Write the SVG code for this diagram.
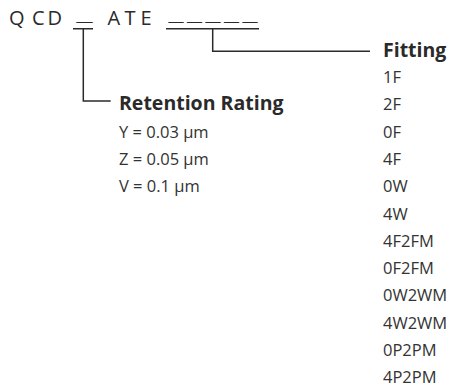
<svg xmlns="http://www.w3.org/2000/svg" width="450" height="388" viewBox="0 0 450 388">
<style>
.t{font-family:"Open Sans","Noto Sans",sans-serif;font-size:20px;fill:#2a2a2a}
.us{font-family:"Open Sans","Noto Sans",sans-serif;font-size:13px;fill:#2a2a2a;stroke:#2a2a2a;stroke-width:0.45}
.h{font-family:"Open Sans","Noto Sans",sans-serif;font-weight:bold;font-size:19.5px;fill:#2a2a2a}
.i{font-family:"Open Sans","Noto Sans",sans-serif;font-size:16.5px;fill:#333}
.c{fill:none;stroke:#2a2a2a;stroke-width:1.5}
</style>
<rect width="450" height="388" fill="#fff"/>
<g id="code">
<text class="t" x="9 32 47.5" y="25">QCD</text>
<text class="us" x="77" y="20.7" textLength="15" lengthAdjust="spacingAndGlyphs">_</text>
<text class="t" x="107.5 124.5 140.5" y="25">ATE</text>
<text class="us" x="169" y="20.7" textLength="14" lengthAdjust="spacingAndGlyphs">_</text>
<text class="us" x="187.5" y="20.7" textLength="14" lengthAdjust="spacingAndGlyphs">_</text>
<text class="us" x="206" y="20.7" textLength="14" lengthAdjust="spacingAndGlyphs">_</text>
<text class="us" x="224.5" y="20.7" textLength="14" lengthAdjust="spacingAndGlyphs">_</text>
<text class="us" x="243" y="20.7" textLength="14" lengthAdjust="spacingAndGlyphs">_</text>
</g>
<g id="connectors">
<path class="c" d="M73 28.7H93M83.3 28.7V101H110.7"/>
<path class="c" d="M166 28.7H259M212.7 28.7V51.3H370"/>
</g>
<g id="retention">
<text class="h" x="119" y="110">Retention Rating</text>
<text class="i" x="119" y="137.6">Y = 0.03 µm</text>
<text class="i" x="119" y="164.9">Z = 0.05 µm</text>
<text class="i" x="119" y="192.2">V = 0.1 µm</text>
</g>
<g id="fitting">
<text class="h" x="383" y="57">Fitting</text>
<text class="i" x="383" y="83">1F</text>
<text class="i" x="383" y="110.3">2F</text>
<text class="i" x="383" y="137.6">0F</text>
<text class="i" x="383" y="164.9">4F</text>
<text class="i" x="383" y="192.2">0W</text>
<text class="i" x="383" y="219.5">4W</text>
<text class="i" x="383" y="246.8">4F2FM</text>
<text class="i" x="383" y="274.1">0F2FM</text>
<text class="i" x="383" y="301.4">0W2WM</text>
<text class="i" x="383" y="328.7">4W2WM</text>
<text class="i" x="383" y="356">0P2PM</text>
<text class="i" x="383" y="383.3">4P2PM</text>
</g>
</svg>
